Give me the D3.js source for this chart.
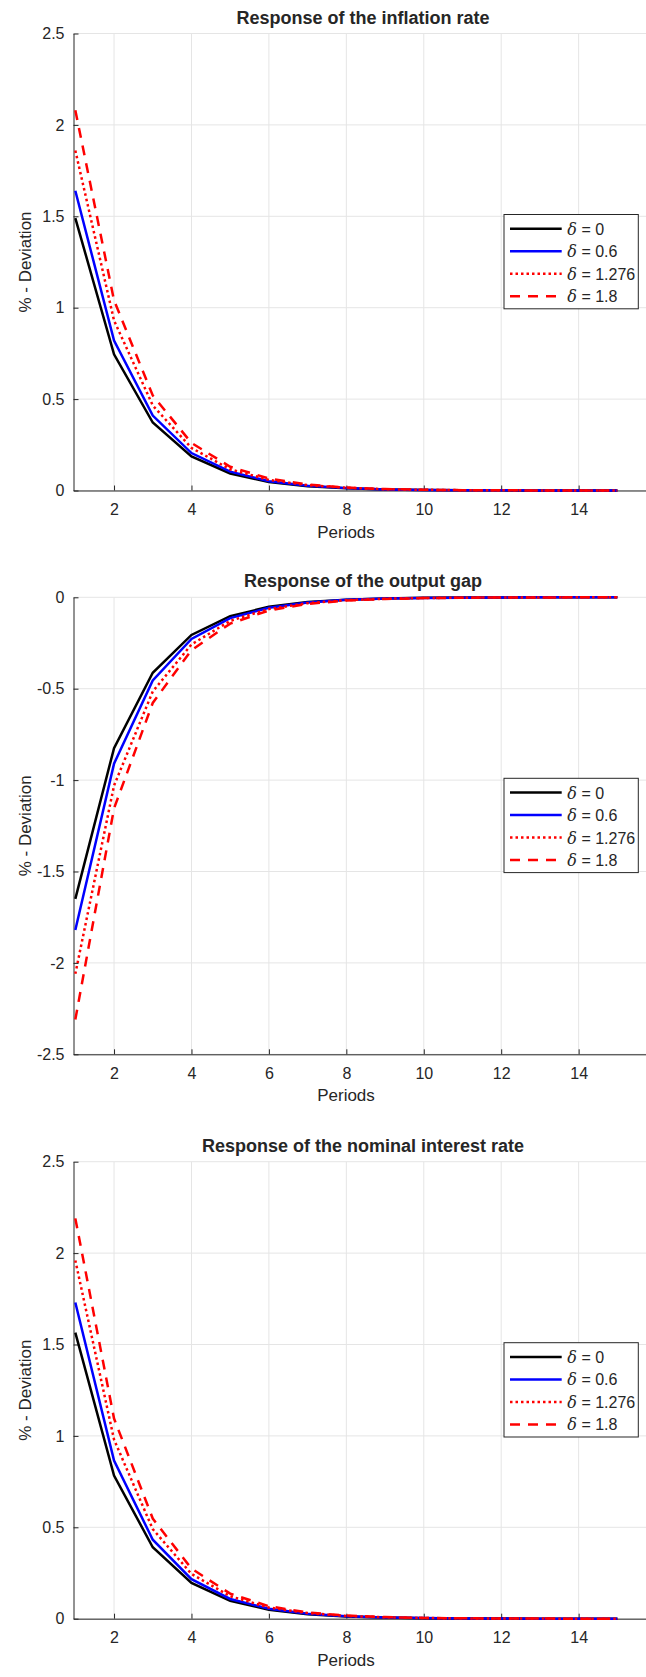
<!DOCTYPE html>
<html>
<head>
<meta charset="utf-8">
<script src="https://cdn.jsdelivr.net/npm/d3@7"></script>
<style>
  body { margin: 0; background: #fff; }
  text { font-family: "Liberation Sans", Arial, sans-serif; fill: #262626; }
</style>
</head>
<body>
<svg id="fig" width="646" height="1677"></svg>
<script>
// periods 1..15
var periods = [1, 2, 3, 4, 5, 6, 7, 8, 9, 10, 11, 12, 13, 14, 15];
var deltaLabels = ["0", "0.6", "1.276", "1.8"];
var xTicks = [2, 4, 6, 8, 10, 12, 14];

// inflation rate
var infl0    = [1.49, 0.745, 0.372, 0.186, 0.093, 0.047, 0.023, 0.012, 0.006, 0.003, 0.0015, 0.0007, 0.0004, 0.0002, 0.0001];
var infl06   = [1.64, 0.82, 0.41, 0.205, 0.103, 0.051, 0.026, 0.013, 0.006, 0.003, 0.0016, 0.0008, 0.0004, 0.0002, 0.0001];
var infl1276 = [1.86, 0.93, 0.465, 0.233, 0.116, 0.058, 0.029, 0.015, 0.007, 0.004, 0.0018, 0.0009, 0.0005, 0.0002, 0.0001];
var infl18   = [2.08, 1.04, 0.52, 0.26, 0.13, 0.065, 0.033, 0.016, 0.008, 0.004, 0.002, 0.001, 0.0005, 0.0003, 0.0001];

// output gap
var gap0    = [-1.65, -0.825, -0.413, -0.206, -0.103, -0.052, -0.026, -0.013, -0.006, -0.003, -0.0016, -0.0008, -0.0004, -0.0002, -0.0001];
var gap06   = [-1.82, -0.91, -0.455, -0.228, -0.114, -0.057, -0.028, -0.014, -0.007, -0.0036, -0.0018, -0.0009, -0.0004, -0.0002, -0.0001];
var gap1276 = [-2.06, -1.03, -0.515, -0.258, -0.129, -0.064, -0.032, -0.016, -0.008, -0.004, -0.002, -0.001, -0.0005, -0.0003, -0.0001];
var gap18   = [-2.31, -1.155, -0.578, -0.289, -0.144, -0.072, -0.036, -0.018, -0.009, -0.0045, -0.0023, -0.0011, -0.0006, -0.0003, -0.0001];

// nominal interest rate
var rate0    = [1.565, 0.783, 0.391, 0.196, 0.098, 0.049, 0.024, 0.012, 0.006, 0.003, 0.0015, 0.0008, 0.0004, 0.0002, 0.0001];
var rate06   = [1.73, 0.865, 0.432, 0.216, 0.108, 0.054, 0.027, 0.0135, 0.007, 0.0034, 0.0017, 0.0008, 0.0004, 0.0002, 0.0001];
var rate1276 = [1.96, 0.98, 0.49, 0.245, 0.123, 0.061, 0.031, 0.015, 0.008, 0.0038, 0.0019, 0.001, 0.0005, 0.0002, 0.0001];
var rate18   = [2.19, 1.095, 0.548, 0.274, 0.137, 0.068, 0.034, 0.017, 0.009, 0.0043, 0.0021, 0.0011, 0.0005, 0.0003, 0.0001];

var yTicksPos = [0, 0.5, 1, 1.5, 2, 2.5];
var yTicksNeg = [-2.5, -2, -1.5, -1, -0.5, 0];

var styles = [
  { color: "#000000", dash: null },
  { color: "#0000ff", dash: null },
  { color: "#ff0000", dash: "2.5,3" },
  { color: "#ff0000", dash: "10,8" }
];

var panels = [
  { title: "Response of the inflation rate", top: 33.5, domain: [0, 2.5], ticks: yTicksPos, series: [infl0, infl06, infl1276, infl18] },
  { title: "Response of the output gap", top: 597.3, domain: [-2.5, 0], ticks: yTicksNeg, series: [gap0, gap06, gap1276, gap18] },
  { title: "Response of the nominal interest rate", top: 1161.7, domain: [0, 2.5], ticks: yTicksPos, series: [rate0, rate06, rate1276, rate18] }
];

var svg = d3.select("#fig");
var left = 73.5, right = 646, h = 457;

// x = 1 sits a little right of the axis line; axes run past the image edge
var x = d3.scaleLinear().domain([0.953, 15.74]).range([left, right]);

panels.forEach(function (p) {
  var g = svg.append("g").attr("transform", "translate(0," + p.top + ")");
  var y = d3.scaleLinear().domain(p.domain).range([h, 0]);

  // grid
  g.append("g").selectAll("line").data(xTicks).enter().append("line")
    .attr("x1", d => x(d)).attr("x2", d => x(d))
    .attr("y1", 0).attr("y2", h)
    .attr("stroke", "#e5e5e5").attr("stroke-width", 1);
  g.append("g").selectAll("line").data(p.ticks).enter().append("line")
    .attr("x1", left).attr("x2", right)
    .attr("y1", d => y(d)).attr("y2", d => y(d))
    .attr("stroke", "#e5e5e5").attr("stroke-width", 1);

  // axes
  var xa = g.append("g").attr("transform", "translate(0," + h + ")")
    .call(d3.axisBottom(x).tickValues(xTicks).tickSizeInner(-5).tickSizeOuter(0).tickPadding(13));
  var ya = g.append("g").attr("transform", "translate(" + left + ",0)")
    .call(d3.axisLeft(y).tickValues(p.ticks).tickSizeInner(-5).tickSizeOuter(0).tickPadding(9)
      .tickFormat(d => String(d)));
  [xa, ya].forEach(function (a) {
    a.select(".domain").attr("stroke", "#262626").attr("stroke-width", 1);
    a.selectAll(".tick line").attr("stroke", "#262626");
    a.selectAll(".tick text").attr("fill", "#262626").style("font-size", "16px")
      .style("font-family", "'Liberation Sans', Arial, sans-serif");
  });

  // lines
  var line = d3.line().x((d, i) => x(periods[i])).y(d => y(d));
  p.series.forEach(function (s, k) {
    g.append("path").datum(s)
      .attr("d", line)
      .attr("fill", "none")
      .attr("stroke", styles[k].color)
      .attr("stroke-width", 2.5)
      .attr("stroke-dasharray", styles[k].dash);
  });

  // title and labels
  g.append("text").attr("x", 363).attr("y", -10)
    .attr("text-anchor", "middle").style("font-size", "18px").style("font-weight", "bold")
    .text(p.title);
  g.append("text").attr("x", 346).attr("y", h + 47)
    .attr("text-anchor", "middle").style("font-size", "17px").text("Periods");
  g.append("text").attr("transform", "translate(31," + (h / 2) + ") rotate(-90)")
    .attr("text-anchor", "middle").style("font-size", "17px").text("% - Deviation");

  // legend
  var lg = g.append("g").attr("transform", "translate(504," + (h / 2 - 47.5) + ")");
  lg.append("rect").attr("width", 134.3).attr("height", 94.3)
    .attr("fill", "#fff").attr("stroke", "#262626").attr("stroke-width", 1);
  styles.forEach(function (st, k) {
    var yy = 14.3 + k * 22.5;
    lg.append("line").attr("x1", 6).attr("x2", 57.7).attr("y1", yy).attr("y2", yy)
      .attr("stroke", st.color).attr("stroke-width", 2.5).attr("stroke-dasharray", st.dash);
    var t = lg.append("text").attr("x", 63.3).attr("y", yy + 6).style("font-size", "16px");
    t.append("tspan").style("font-family", "'DejaVu Serif', 'Liberation Serif', serif")
      .style("font-style", "italic").text("δ");
    t.append("tspan").text(" = " + deltaLabels[k]);
  });
});
</script>
</body>
</html>
